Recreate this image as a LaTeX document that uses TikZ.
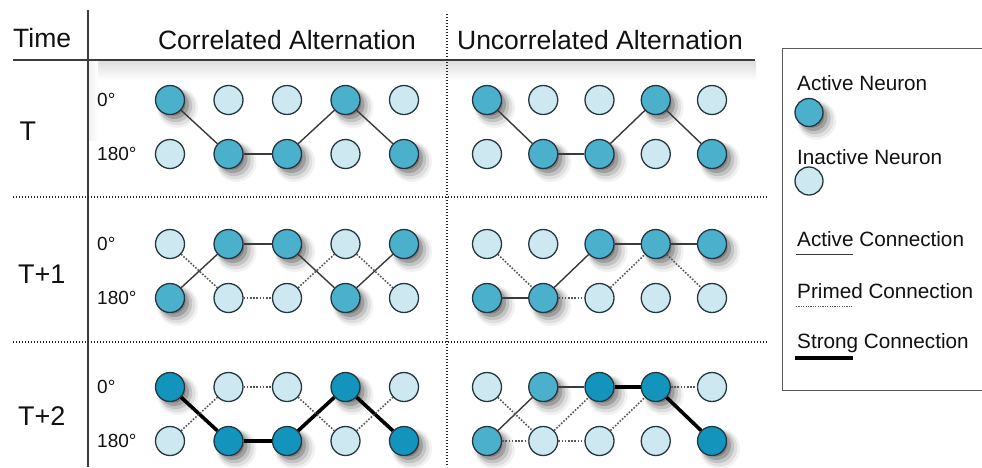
\documentclass[tikz,border=0pt]{standalone}
\usepackage{fontspec}
\setmainfont{Liberation Sans}
\usetikzlibrary{shadows}
\definecolor{actc}{HTML}{4BB0CC}
\definecolor{inactc}{HTML}{CDE8F1}
\definecolor{strongc}{HTML}{1294BD}
\definecolor{nborder}{HTML}{24363E}
\definecolor{conn}{HTML}{3A3A3A}
\definecolor{rulec}{HTML}{3C3C3C}
\definecolor{txt}{HTML}{111111}
\newcommand\placerow[3]{%
  \foreach \xx/\ss [count=\i] in {#3} {\node[\ss] (#1\i) at (\xx,#2) {};}}
\begin{document}
\begin{tikzpicture}[x=1pt,y=-1pt,
  neuron/.style={circle, draw=nborder, line width=1.3pt, minimum size=29pt, inner sep=0pt},
  shad/.style={
    drop shadow={shadow xshift=5.5pt,shadow yshift=-5.5pt,shadow scale=1.4,opacity=.05,fill=black},
    drop shadow={shadow xshift=5.5pt,shadow yshift=-5.5pt,shadow scale=1.27,opacity=.08,fill=black},
    drop shadow={shadow xshift=5pt,shadow yshift=-5pt,shadow scale=1.14,opacity=.12,fill=black},
    drop shadow={shadow xshift=4.5pt,shadow yshift=-4.5pt,shadow scale=1.0,opacity=.18,fill=black},
    drop shadow={shadow xshift=4pt,shadow yshift=-4pt,shadow scale=.85,opacity=.2,fill=black}},
  act/.style={neuron, shad, fill=actc},
  inact/.style={neuron, fill=inactc},
  strn/.style={neuron, shad, fill=strongc},
  activeconn/.style={line width=1.4pt, draw=conn},
  primed/.style={line width=1.6pt, draw=conn!85, dash pattern=on 1.6pt off 1.6pt},
  strongconn/.style={line width=3.6pt, draw=black},
  rulesolid/.style={draw=rulec, line width=1.3pt},
  ruledot/.style={draw=black!85, line width=2pt, dash pattern=on 1.4pt off 1.6pt},
  hdr/.style={font=\fontsize{26.5}{30}\selectfont, text=txt, inner sep=0pt},
  rowlab/.style={font=\fontsize{27}{30}\selectfont, text=txt, inner sep=0pt, anchor=west},
  deglab/.style={font=\fontsize{19}{22}\selectfont, text=txt, inner sep=0pt, anchor=west},
  leglab/.style={font=\fontsize{20.7}{24}\selectfont, text=txt, inner sep=0pt, anchor=base west},
  legendbox/.style={draw=black!65, line width=1.2pt, inner sep=0pt, anchor=north west}
]
\useasboundingbox (0,0) rectangle (982,467);
\fill[white] (0,0) rectangle (982,467);
% soft shade under the header rule
\shade[top color=black!13, bottom color=white] (88,61) rectangle (756,80);
\shade[left color=black!6, right color=white] (88,61) rectangle (98,140);

% rules
\draw[rulesolid] (88,10) -- (88,467);
\draw[rulesolid] (13,60) -- (755,60);
\draw[ruledot] (447,14) -- (447,467);
\draw[ruledot] (13,197) -- (768,197);
\draw[ruledot] (13,342) -- (768,342);

% headers
\node[hdr, anchor=base west] (time) at (13,47) {Time};
\node[hdr, anchor=base] (hcorr) at (287,49) {Correlated Alternation};
\node[hdr, anchor=base] (hunc) at (600,49) {Uncorrelated Alternation};

% row labels
\node[rowlab] (lT) at (19.5,131) {T};
\node[rowlab] (lT1) at (18,274) {T+1};
\node[rowlab] (lT2) at (18,416) {T+2};
\foreach \r/\yt/\yb in {1/100/154, 2/244/298, 3/387/441}{
  \node[deglab] (d0\r) at (97,\yt) {0°};
  \node[deglab] (d180\r) at (97,\yb) {180°};
}

% ---------- Row T ----------
\placerow{c1t}{100}{170/act,228.5/inact,287/inact,345.5/act,404/inact}
\placerow{c1b}{154}{170/inact,228.5/act,287/act,345.5/inact,404/act}
\placerow{u1t}{100}{487/act,543.25/inact,599.5/inact,655.75/act,712/inact}
\placerow{u1b}{154}{487/inact,543.25/act,599.5/act,655.75/inact,712/act}
\foreach \p in {c1,u1}{
  \draw[activeconn] (\p t1) -- (\p b2);
  \draw[activeconn] (\p b2) -- (\p b3);
  \draw[activeconn] (\p b3) -- (\p t4);
  \draw[activeconn] (\p t4) -- (\p b5);
}

% ---------- Row T+1 ----------
\placerow{c2t}{244}{170/inact,228.5/act,287/act,345.5/inact,404/act}
\placerow{c2b}{298}{170/act,228.5/inact,287/inact,345.5/act,404/inact}
\draw[activeconn] (c2b1) -- (c2t2);
\draw[activeconn] (c2t2) -- (c2t3);
\draw[activeconn] (c2t3) -- (c2b4);
\draw[activeconn] (c2b4) -- (c2t5);
\draw[primed] (c2t1) -- (c2b2);
\draw[primed] (c2b2) -- (c2b3);
\draw[primed] (c2b3) -- (c2t4);
\draw[primed] (c2t4) -- (c2b5);

\placerow{u2t}{244}{487/inact,543.25/inact,599.5/act,655.75/act,712/act}
\placerow{u2b}{298}{487/act,543.25/act,599.5/inact,655.75/inact,712/inact}
\draw[activeconn] (u2b1) -- (u2b2);
\draw[activeconn] (u2b2) -- (u2t3);
\draw[activeconn] (u2t3) -- (u2t4);
\draw[activeconn] (u2t4) -- (u2t5);
\draw[primed] (u2t1) -- (u2b2);
\draw[primed] (u2b2) -- (u2b3);
\draw[primed] (u2b3) -- (u2t4);
\draw[primed] (u2t4) -- (u2b5);

% ---------- Row T+2 ----------
\placerow{c3t}{387}{170/strn,228.5/inact,287/inact,345.5/strn,404/inact}
\placerow{c3b}{441}{170/inact,228.5/strn,287/strn,345.5/inact,404/strn}
\draw[strongconn] (c3t1) -- (c3b2);
\draw[strongconn] (c3b2) -- (c3b3);
\draw[strongconn] (c3b3) -- (c3t4);
\draw[strongconn] (c3t4) -- (c3b5);
\draw[primed] (c3b1) -- (c3t2);
\draw[primed] (c3t2) -- (c3t3);
\draw[primed] (c3t3) -- (c3b4);
\draw[primed] (c3b4) -- (c3t5);

\placerow{u3t}{387}{487/inact,543.25/act,599.5/strn,655.75/strn,712/inact}
\placerow{u3b}{441}{487/act,543.25/inact,599.5/inact,655.75/inact,712/strn}
\draw[activeconn] (u3b1) -- (u3t2);
\draw[activeconn] (u3t2) -- (u3t3);
\draw[strongconn] (u3t3) -- (u3t4);
\draw[strongconn] (u3t4) -- (u3b5);
\draw[primed] (u3t1) -- (u3b2);
\draw[primed] (u3b1) -- (u3b2);
\draw[primed] (u3b2) -- (u3b3);
\draw[primed] (u3b2) -- (u3t3);
\draw[primed] (u3b3) -- (u3t4);
\draw[primed] (u3t4) -- (u3t5);

% ---------- Legend (right side runs past the picture edge) ----------
\node[legendbox, minimum width=206pt, minimum height=342pt] (legend) at (782,48) {};
\node[leglab] (la) at (797,90.5) {Active Neuron};
\node[act, minimum size=28pt] (lan) at (809,112.5) {};
\node[leglab] (li) at (797,164.5) {Inactive Neuron};
\node[inact, minimum size=28pt] (lin) at (809,181) {};
\node[leglab] (lac) at (797,246.5) {Active Connection};
\coordinate (lacA) at (796,254.5);
\coordinate (lacB) at (853,254.5);
\draw[activeconn] (lacA) -- (lacB);
\node[leglab] (lpc) at (797,298.5) {Primed Connection};
\coordinate (lpcA) at (796,306.5);
\coordinate (lpcB) at (853,306.5);
\draw[primed, line width=1.2pt, dash pattern=on 1.2pt off 1.2pt] (lpcA) -- (lpcB);
\node[leglab] (lsc) at (797,348.5) {Strong Connection};
\coordinate (lscA) at (795,358);
\coordinate (lscB) at (853,358);
\draw[strongconn] (lscA) -- (lscB);
\end{tikzpicture}
\end{document}
